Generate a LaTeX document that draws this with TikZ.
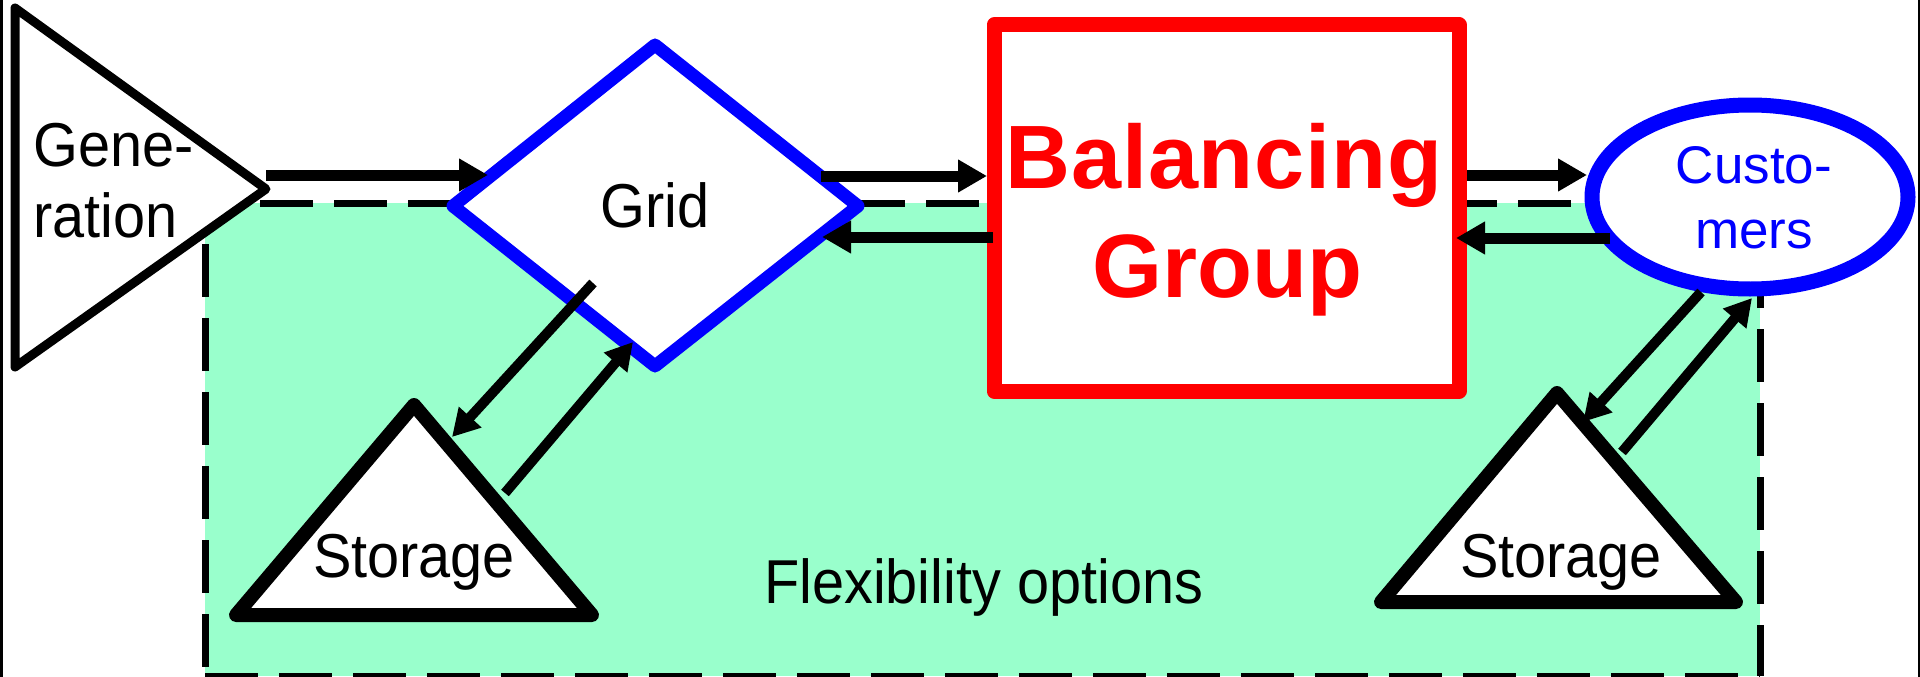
\documentclass[tikz,border=0pt]{standalone}
\usepackage{fontspec}
\setmainfont{Liberation Sans}
\newfontfamily\labfont[FakeStretch=0.93]{Liberation Sans}
\newfontfamily\bgfont{Liberation Sans}
\usetikzlibrary{arrows.meta}
\definecolor{flexgreen}{RGB}{153,255,204}
\definecolor{pblue}{RGB}{0,0,255}
\definecolor{pred}{RGB}{255,0,0}
\begin{document}
\begin{tikzpicture}[x=1pt,y=-1pt,
  flow/.style={line width=11pt,-{Triangle[length=29pt,width=31pt]}},
  sflow/.style={line width=10pt,-{Triangle[length=27pt,width=29pt]}},
  border/.style={line width=7pt,dash pattern=on 53pt off 21pt},
  lab/.style={inner sep=0pt,anchor=base,font=\labfont\fontsize{62}{71}\selectfont},
  bglab/.style={inner sep=0pt,anchor=base,text=pred,font=\bgfont\bfseries\fontsize{90}{108}\selectfont},
  culab/.style={inner sep=0pt,anchor=base,text=pblue,font=\fontsize{53}{64}\selectfont},
  shapeline/.style={line join=round,fill=white}]
\useasboundingbox (0,0) rectangle (1920,677);
% frame
\draw[line width=2.5pt] (1.25,0) -- (1.25,677);
\draw[line width=2.5pt] (1918.75,0) -- (1918.75,677);
% flexibility area
\fill[flexgreen] (205,203) rectangle (1760,676);
\draw[border,dash phase=19pt] (205,203) -- (1760,203);
\draw[border,dash phase=33pt] (205,203) -- (205,676);
\draw[border,dash phase=22pt] (1760,203) -- (1760,676);
\draw[border] (205,676) -- (1760,676);
% shapes
\draw[shapeline,line width=9pt] (15,8) -- (266,189) -- (15,367) -- cycle;
\draw[shapeline,line width=13pt,draw=pblue] (453,206) -- (655,45) -- (858,206) -- (655,366) -- cycle;
\draw[shapeline,line width=15pt,draw=pred] (994,25) rectangle (1459,391);
\draw[shapeline,line width=15pt,draw=pblue] (1750,197) ellipse [x radius=158, y radius=92];
\draw[shapeline,line width=14pt] (414,405) -- (592,615) -- (236,615) -- cycle;
\draw[shapeline,line width=14pt] (1557,393) -- (1736,602) -- (1381,602) -- cycle;
% connector end points
\coordinate (g2gs) at (266,175);  \coordinate (g2ge) at (488,175);
\coordinate (gr2bs) at (821,176); \coordinate (gr2be) at (987,176);
\coordinate (b2grs) at (993,237); \coordinate (b2gre) at (822,237);
\coordinate (b2cs) at (1467,175); \coordinate (b2ce) at (1587,175);
\coordinate (c2bs) at (1610,238); \coordinate (c2be) at (1456,238);
\coordinate (gr2ss) at (593,283); \coordinate (gr2se) at (452,437);
\coordinate (s2grs) at (505,493); \coordinate (s2gre) at (633,342);
\coordinate (c2ss) at (1701,292); \coordinate (c2se) at (1583,422);
\coordinate (s2cs) at (1622,452); \coordinate (s2ce) at (1752,298);
% connectors
\draw[flow] (g2gs) -- (g2ge);
\draw[flow] (gr2bs) -- (gr2be);
\draw[flow] (b2grs) -- (b2gre);
\draw[flow] (b2cs) -- (b2ce);
\draw[flow] (c2bs) -- (c2be);
\draw[sflow] (gr2ss) -- (gr2se);
\draw[sflow] (s2grs) -- (s2gre);
\draw[sflow] (c2ss) -- (c2se);
\draw[sflow] (s2cs) -- (s2ce);
% labels
\node[lab,anchor=base west] (gen1) at (33,166) {Gene-};
\node[lab,anchor=base west] (gen2) at (33,237) {ration};
\node[lab] (grid) at (655,227) {Grid};
\node[bglab,font=\bgfont\bfseries\fontsize{90}{108}\selectfont\addfontfeature{LetterSpace=1}] (bal) at (1224,188) {Balancing};
\node[bglab] (grp) at (1227,297) {Group};
\node[culab] (cus1) at (1754,183) {Custo-};
\node[culab] (cus2) at (1754,248) {mers};
\node[lab] (sto1) at (414,577) {Storage};
\node[lab] (sto2) at (1561,577) {Storage};
\node[lab,anchor=base west] (flex) at (764,603) {Flexibility options};
\end{tikzpicture}
\end{document}
